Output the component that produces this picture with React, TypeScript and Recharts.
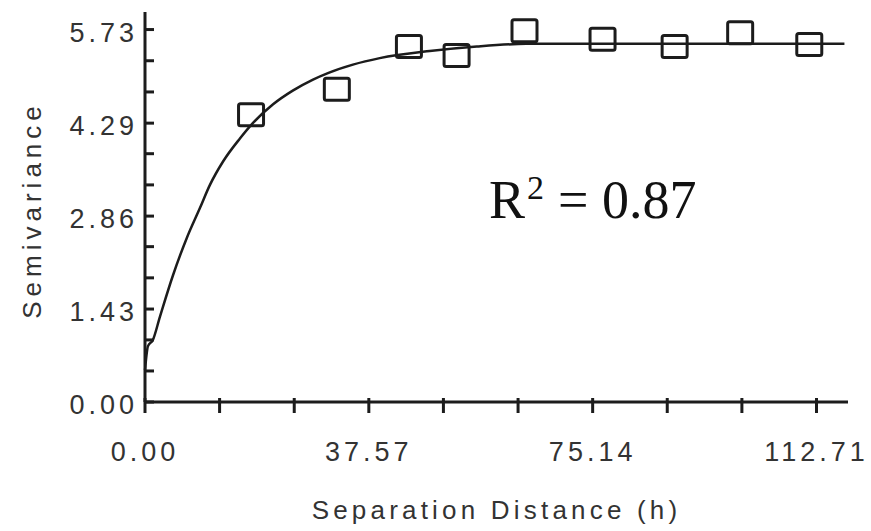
import { ComposedChart, Line, Scatter, XAxis, YAxis } from "recharts";

// experimental semivariogram (lag distance -> semivariance)
const lagDistance = [17.8, 32.2, 44.3, 52.3, 63.7, 76.8, 88.9, 99.9, 111.5];
const semivariance = [4.42, 4.81, 5.47, 5.33, 5.71, 5.58, 5.47, 5.68, 5.5];

// fitted model curve
const modelDistance = [
  0, 0.5, 1.3, 2.5, 4.7, 7.0, 9.2, 10.9, 13.1, 15.9, 18.1, 21.5, 24.8, 28.2,
  30.7, 34.9, 39.4, 47.8, 55.7, 64.0, 117.4,
];
const modelValue = [
  0.49, 0.86, 0.95, 1.31, 1.95, 2.52, 2.98, 3.34, 3.7, 4.05, 4.29, 4.58, 4.79,
  4.96, 5.06, 5.19, 5.29, 5.4, 5.47, 5.51, 5.51,
];

const xTicks = [0, 12.52, 25.05, 37.57, 50.09, 62.62, 75.14, 87.66, 100.19, 112.71];
const xTickLabels = ["0.00", "", "", "37.57", "", "", "75.14", "", "", "112.71"];
const yTicks = [0, 0.4775, 0.955, 1.43, 1.91, 2.39, 2.86, 3.34, 3.82, 4.29, 4.77, 5.25, 5.73];
const yTickLabels = ["0.00", "", "", "1.43", "", "", "2.86", "", "", "4.29", "", "", "5.73"];

const points = lagDistance.map((x, i) => ({ x, y: semivariance[i] }));
const model = modelDistance.map((x, i) => ({ x, y: modelValue[i] }));

const ink = "#1c1c1c";
const textColor = "#333";
const sans = "'Liberation Sans', Arial, sans-serif";

function XTick(props: any) {
  const { x, y, index } = props;
  return (
    <g>
      <line x1={x} x2={x} y1={y - 6} y2={y + 9} stroke={ink} strokeWidth={3} />
      <text
        x={x}
        y={y + 57}
        textAnchor="middle"
        fill={textColor}
        fontFamily={sans}
        fontSize={27}
        letterSpacing={4}
      >
        {xTickLabels[index]}
      </text>
    </g>
  );
}

function YTick(props: any) {
  const { x, y, index } = props;
  return (
    <g>
      <line x1={x + 9} x2={x + 18} y1={y} y2={y} stroke={ink} strokeWidth={3} />
      <text
        x={x + 2}
        y={y + 12}
        textAnchor="end"
        fill={textColor}
        fontFamily={sans}
        fontSize={27}
        letterSpacing={4}
      >
        {yTickLabels[index]}
      </text>
    </g>
  );
}

function YTitle(props: any) {
  const { viewBox } = props;
  const cy = viewBox.y + viewBox.height / 2 + 3;
  return (
    <text
      x={41}
      y={cy}
      transform={`rotate(-90, 41, ${cy})`}
      textAnchor="middle"
      fill={textColor}
      fontFamily={sans}
      fontSize={26}
      letterSpacing={5}
    >
      Semivariance
    </text>
  );
}

function SquareMark(props: any) {
  const { cx, cy } = props;
  return (
    <rect
      x={cx - 12.5}
      y={cy - 11}
      width={25}
      height={22}
      rx={2}
      fill="none"
      stroke={ink}
      strokeWidth={3}
    />
  );
}

export default function App() {
  return (
    <div
      style={{
        position: "absolute",
        left: 0,
        top: 0,
        width: 871,
        height: 531,
        background: "#fff",
      }}
    >
      <ComposedChart
        width={871}
        height={531}
        margin={{ top: 12, right: 23, bottom: 0, left: 0 }}
      >
        <XAxis
          type="number"
          dataKey="x"
          domain={[0, 118]}
          ticks={xTicks}
          interval={0}
          tickSize={0}
          tickLine={false}
          tick={<XTick />}
          height={129}
          axisLine={{ stroke: ink, strokeWidth: 3 }}
          label={{
            value: "Separation Distance (h)",
            position: "insideBottom",
            offset: 12,
            fill: textColor,
            fontFamily: sans,
            fontSize: 26,
            letterSpacing: 4.2,
          }}
        />
        <YAxis
          type="number"
          domain={[0, 6]}
          ticks={yTicks}
          interval={0}
          tickSize={0}
          tickMargin={9}
          tickLine={false}
          tick={<YTick />}
          width={145}
          axisLine={{ stroke: ink, strokeWidth: 3 }}
          label={<YTitle />}
        />
        <Line
          data={model}
          dataKey="y"
          type="monotone"
          stroke={ink}
          strokeWidth={2.5}
          dot={false}
          activeDot={false}
          isAnimationActive={false}
        />
        <Scatter
          data={points}
          dataKey="y"
          shape={<SquareMark />}
          isAnimationActive={false}
        />
      </ComposedChart>
      <svg
        width={871}
        height={531}
        style={{ position: "absolute", left: 0, top: 0, pointerEvents: "none" }}
      >
        <text
          y={218}
          fill="#111"
          fontFamily="'Liberation Serif', 'Times New Roman', serif"
          fontSize={54}
        >
          <tspan x={489}>R</tspan>
          <tspan x={527} y={199} fontSize={34}>
            2
          </tspan>
          <tspan x={558} y={218}>
            =
          </tspan>
          <tspan x={602} y={218}>
            0.87
          </tspan>
        </text>
      </svg>
    </div>
  );
}
